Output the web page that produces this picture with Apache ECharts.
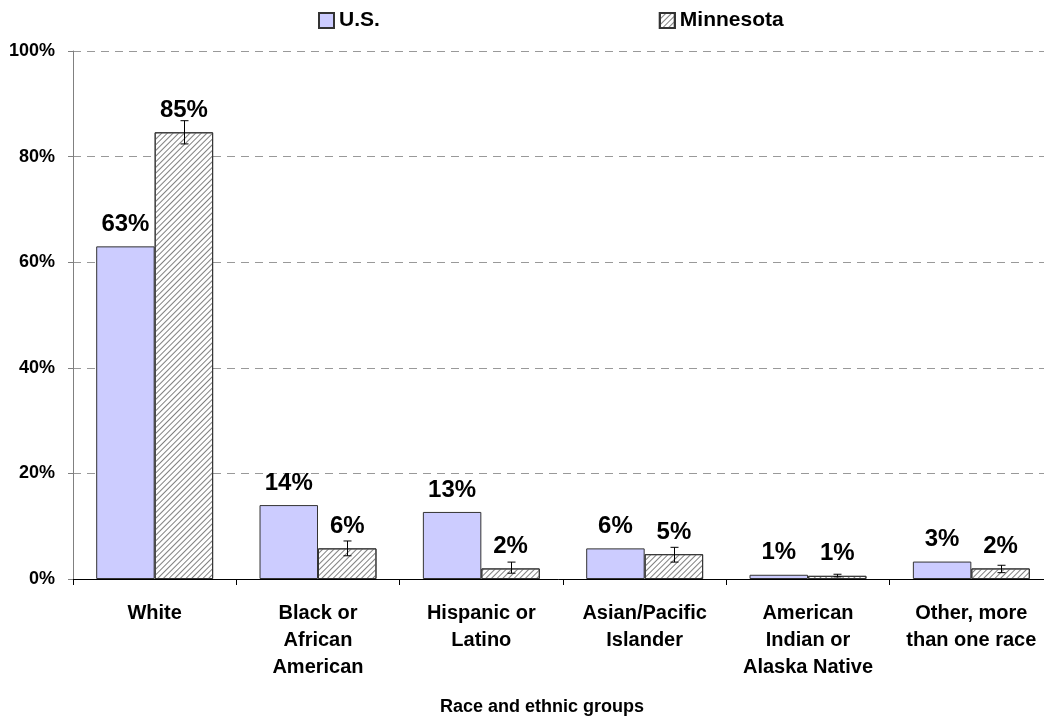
<!DOCTYPE html>
<html>
<head>
<meta charset="utf-8">
<script src="https://cdn.jsdelivr.net/npm/echarts@6/dist/echarts.min.js"></script>
<style>
html,body{margin:0;padding:0;background:#fff;}
#chart{width:1044px;height:721px;}
</style>
</head>
<body>
<div id="chart"></div>
<script>
const categories = ['White', 'Black or\nAfrican\nAmerican', 'Hispanic or\nLatino', 'Asian/Pacific\nIslander', 'American\nIndian or\nAlaska Native', 'Other, more\nthan one race'];
const usValues = [63.0, 14.0, 12.7, 5.8, 0.8, 3.3];
const mnValues = [84.6, 5.8, 2.0, 4.7, 0.6, 2.0];
const mnLow = [82.4, 4.4, 1.1, 3.2, 0.4, 1.2];
const mnHigh = [86.8, 7.2, 3.2, 6.0, 0.9, 2.6];
const yMin = 0, yMax = 100, yInterval = 20;
const seriesNames = ['U.S.', 'Minnesota'];
const axisTitle = 'Race and ethnic groups';

const FONT = '"Liberation Sans", Arial, sans-serif';
const chart = echarts.init(document.getElementById('chart'), null, {renderer: 'canvas'});

function renderError(params, api) {
  const i = api.value(0);
  const lo = api.coord([i, api.value(1)]);
  const hi = api.coord([i, api.value(2)]);
  const band = api.size([1, 0])[0];
  const x = Math.round(lo[0] + band * 0.179) + 0.5;
  const st = {stroke: '#000', lineWidth: 1};
  return {type: 'group', children: [
    {type: 'line', shape: {x1: x, y1: hi[1], x2: x, y2: lo[1]}, style: st},
    {type: 'line', shape: {x1: x - 4, y1: hi[1], x2: x + 4, y2: hi[1]}, style: st},
    {type: 'line', shape: {x1: x - 4, y1: lo[1], x2: x + 4, y2: lo[1]}, style: st}
  ]};
}

const labelStyle = {
  show: true, position: 'top', distance: 10,
  fontSize: 24, fontWeight: 'bold', color: '#000', fontFamily: FONT,
  formatter: p => Math.round(p.value) + '%'
};

const hatch = {symbol: 'rect', symbolSize: 1, dashArrayX: [1, 0], dashArrayY: [1, 2.6], rotation: -Math.PI / 4, color: '#808080'};

chart.setOption({
  animation: false,
  backgroundColor: '#fff',
  textStyle: {fontFamily: FONT},
  legend: {
    data: seriesNames,
    left: 318, top: 10, padding: 0,
    icon: 'rect',
    itemWidth: 15, itemHeight: 15, itemGap: 279,
    textStyle: {fontSize: 21, fontWeight: 'bold', color: '#000', fontFamily: FONT}
  },
  grid: {left: 73, width: 980, top: 51, bottom: 142, containLabel: false, outerBoundsMode: 'none'},
  xAxis: {
    type: 'category',
    data: categories,
    axisLine: {lineStyle: {color: '#000', width: 1}},
    axisTick: {show: true, length: 6, lineStyle: {color: '#000'}},
    axisLabel: {
      margin: 21, fontSize: 20, lineHeight: 27, fontWeight: 'bold', color: '#000',
      fontFamily: FONT, align: 'center', interval: 0
    }
  },
  yAxis: {
    type: 'value', min: yMin, max: yMax, interval: yInterval,
    axisLine: {show: true, lineStyle: {color: '#808080', width: 1}},
    axisTick: {show: true, length: 5, lineStyle: {color: '#808080'}},
    axisLabel: {
      formatter: '{value}%', margin: 18, fontSize: 18, fontWeight: 'bold',
      color: '#000', fontFamily: FONT
    },
    splitLine: {show: true, lineStyle: {color: '#999', type: [8, 6], width: 1}}
  },
  series: [
    {
      name: seriesNames[0], type: 'bar', data: usValues,
      barWidth: '35.8%', barGap: '0%',
      itemStyle: {color: '#CCCCFF', borderColor: '#333', borderWidth: 1},
      label: labelStyle
    },
    {
      name: seriesNames[1], type: 'bar', data: mnValues,
      barWidth: '35.8%', barGap: '0%',
      itemStyle: {color: '#fff', borderColor: '#333', borderWidth: 1, decal: hatch},
      label: labelStyle
    },
    {
      name: 'error', type: 'custom', renderItem: renderError,
      data: categories.map((c, i) => [i, mnLow[i], mnHigh[i]]),
      encode: {x: 0, y: [1, 2]}, z: 5, silent: true
    }
  ],
  graphic: [{
    type: 'text', x: 542, y: 707,
    style: {text: axisTitle, align: 'center', verticalAlign: 'middle',
      fontSize: 18, fontWeight: 'bold', fill: '#000', fontFamily: FONT}
  }]
});
</script>
</body>
</html>
